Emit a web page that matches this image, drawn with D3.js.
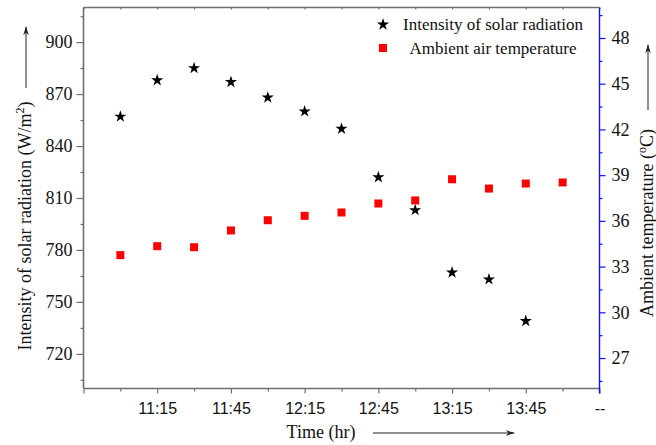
<!DOCTYPE html>
<html>
<head>
<meta charset="utf-8">
<script src="https://cdn.jsdelivr.net/npm/d3@7"></script>
<style>
	body { margin: 0; background: #fff; }
	text { fill: #111; }
</style>
</head>
<body>
<svg id="chart" width="656" height="445"></svg>
<script>
// Data
var starTimes = ["11:00", "11:15", "11:30", "11:45", "12:00", "12:15", "12:30", "12:45", "13:00", "13:15", "13:30", "13:45"];
var radiation = [857, 878, 885, 877, 868, 860, 850, 822, 803, 767, 763, 739];
var tempTimes = ["11:00", "11:15", "11:30", "11:45", "12:00", "12:15", "12:30", "12:45", "13:00", "13:15", "13:30", "13:45", "14:00"];
var temperature = [33.75, 34.34, 34.27, 35.37, 36.04, 36.33, 36.55, 37.14, 37.34, 38.73, 38.12, 38.45, 38.52];

var timeMajor = ["10:45", "11:15", "11:45", "12:15", "12:45", "13:15", "13:45", "14:15"];
var timeLabels = ["", "11:15", "11:45", "12:15", "12:45", "13:15", "13:45", "--"];
var timeMinor = ["11:00", "11:30", "12:00", "12:30", "13:00", "13:30", "14:00"];
var radMajor = [720, 750, 780, 810, 840, 870, 900];
var radMinor = [705, 735, 765, 795, 825, 855, 885, 915];
var tempMajor = [27, 30, 33, 36, 39, 42, 45, 48];
var tempMinor = [25.5, 28.5, 31.5, 34.5, 37.5, 40.5, 43.5, 46.5, 49.5];

var parse = d3.timeParse("%H:%M");
var frame = "#6f6f6f";
var blue = "#1010ff";
var serif = "'Liberation Serif', 'Times New Roman', serif";
var sans = "'Liberation Sans', Arial, sans-serif";

var svg = d3.select("#chart");
// plot box (window.top is reserved, so use own names)
var pL = 83.5, pR = 599.5, pT = 7.5, pB = 388.5;

var x = d3.scaleTime()
	.domain([parse("10:45"), parse("14:15")])
	.range([pL, pR]);
var yRad = d3.scaleLinear().domain([700, 920]).range([pB, pT]);
var yTemp = d3.scaleLinear().domain([25, 50]).range([pB, pT]);

function styleAxis(g, col) {
	g.select(".domain").remove();
	g.selectAll("line").attr("stroke", col).attr("stroke-width", 1.2);
	g.selectAll("text").style("fill", "#111");
}

// bottom axis
svg.append("g")
	.attr("transform", "translate(0," + pB + ")")
	.call(d3.axisBottom(x).tickValues(timeMinor.map(parse)).tickSize(3).tickFormat(""))
	.call(styleAxis, frame);
svg.append("g")
	.attr("transform", "translate(0," + pB + ")")
	.call(d3.axisBottom(x).tickValues(timeMajor.map(parse)).tickSize(5).tickPadding(9)
		.tickFormat(function(d, i) { return timeLabels[i]; }))
	.call(styleAxis, frame)
	.selectAll("text")
	.style("font-family", sans)
	.style("font-size", "16px");

// top axis (small inner ticks)
svg.append("g")
	.attr("transform", "translate(0," + pT + ")")
	.call(d3.axisBottom(x).tickValues(timeMajor.concat(timeMinor).map(parse)).tickSize(2).tickFormat(""))
	.call(styleAxis, frame);

// left axis
svg.append("g")
	.attr("transform", "translate(" + pL + ",0)")
	.call(d3.axisLeft(yRad).tickValues(radMinor).tickSize(3).tickFormat(""))
	.call(styleAxis, frame);
svg.append("g")
	.attr("transform", "translate(" + pL + ",0)")
	.call(d3.axisLeft(yRad).tickValues(radMajor).tickSize(7).tickPadding(4))
	.call(styleAxis, frame)
	.selectAll("text")
	.style("font-family", serif)
	.style("font-size", "18px");

// right axis (blue)
svg.append("g")
	.attr("transform", "translate(" + pR + ",0)")
	.call(d3.axisRight(yTemp).tickValues(tempMinor).tickSize(3).tickFormat(""))
	.call(styleAxis, blue);
svg.append("g")
	.attr("transform", "translate(" + pR + ",0)")
	.call(d3.axisRight(yTemp).tickValues(tempMajor).tickSize(6).tickPadding(6))
	.call(styleAxis, blue)
	.selectAll("text")
	.style("font-family", serif)
	.style("font-size", "18px");

// frame lines
svg.append("line").attr("x1", pL).attr("x2", pR).attr("y1", pT).attr("y2", pT)
	.attr("stroke", frame).attr("stroke-width", 1.6);
svg.append("line").attr("x1", pL).attr("x2", pR).attr("y1", pB).attr("y2", pB)
	.attr("stroke", frame).attr("stroke-width", 1.6);
svg.append("line").attr("x1", pL).attr("x2", pL).attr("y1", pT).attr("y2", pB)
	.attr("stroke", frame).attr("stroke-width", 1.6);
svg.append("line").attr("x1", pR).attr("x2", pR).attr("y1", pT).attr("y2", pB + 5)
	.attr("stroke", blue).attr("stroke-width", 1.4);

// marks
var star = d3.symbol().type(d3.symbolStar).size(46);
svg.append("g").selectAll("path")
	.data(radiation)
	.enter()
	.append("path")
	.attr("d", star)
	.attr("transform", function(d, i) {
		return "translate(" + x(parse(starTimes[i])) + "," + yRad(d) + ")";
	})
	.attr("fill", "#000");

svg.append("g").selectAll("rect")
	.data(temperature)
	.enter()
	.append("rect")
	.attr("x", function(d, i) { return x(parse(tempTimes[i])) - 4; })
	.attr("y", function(d) { return yTemp(d) - 4; })
	.attr("width", 8)
	.attr("height", 8)
	.attr("fill", "#ff0000");

// legend
svg.append("path").attr("d", star).attr("transform", "translate(383,24.5)").attr("fill", "#000");
svg.append("rect").attr("x", 379).attr("y", 44).attr("width", 8).attr("height", 8).attr("fill", "#ff0000");
svg.append("text").attr("x", 493).attr("y", 30).attr("text-anchor", "middle")
	.style("font-family", serif).style("font-size", "17px")
	.text("Intensity of solar radiation");
svg.append("text").attr("x", 493).attr("y", 54).attr("text-anchor", "middle")
	.style("font-family", serif).style("font-size", "17px")
	.text("Ambient air temperature");

// arrow marker
svg.append("defs").append("marker")
	.attr("id", "arr")
	.attr("viewBox", "0 0 10 10")
	.attr("refX", 9).attr("refY", 5)
	.attr("markerWidth", 9).attr("markerHeight", 9)
	.attr("markerUnits", "userSpaceOnUse")
	.attr("orient", "auto")
	.append("path")
	.attr("d", "M0,2 L10,5 L0,8 L3,5 Z")
	.attr("fill", "#222");

// x title
svg.append("text").attr("x", 321).attr("y", 438).attr("text-anchor", "middle")
	.style("font-family", serif).style("font-size", "18px")
	.text("Time (hr)");
svg.append("line").attr("x1", 373).attr("x2", 514).attr("y1", 433).attr("y2", 433)
	.attr("stroke", "#222").attr("stroke-width", 1).attr("marker-end", "url(#arr)");

// left title
var lt = svg.append("text")
	.attr("transform", "translate(31,226) rotate(-90)")
	.attr("text-anchor", "middle")
	.style("font-family", serif).style("font-size", "18px");
lt.append("tspan").text("Intensity of solar radiation (W/m");
lt.append("tspan").attr("baseline-shift", "super").style("font-size", "12px").text("2");
lt.append("tspan").text(")");
svg.append("line").attr("x1", 26).attr("x2", 26).attr("y1", 88).attr("y2", 27)
	.attr("stroke", "#222").attr("stroke-width", 1).attr("marker-end", "url(#arr)");

// right title
var rt = svg.append("text")
	.attr("transform", "translate(653,223) rotate(-90)")
	.attr("text-anchor", "middle")
	.style("font-family", serif).style("font-size", "18px");
rt.append("tspan").text("Ambient temperature (");
rt.append("tspan").attr("baseline-shift", "super").style("font-size", "12px").text("o");
rt.append("tspan").text("C)");
svg.append("line").attr("x1", 648).attr("x2", 648).attr("y1", 110).attr("y2", 45)
	.attr("stroke", "#222").attr("stroke-width", 1).attr("marker-end", "url(#arr)");
</script>
</body>
</html>
